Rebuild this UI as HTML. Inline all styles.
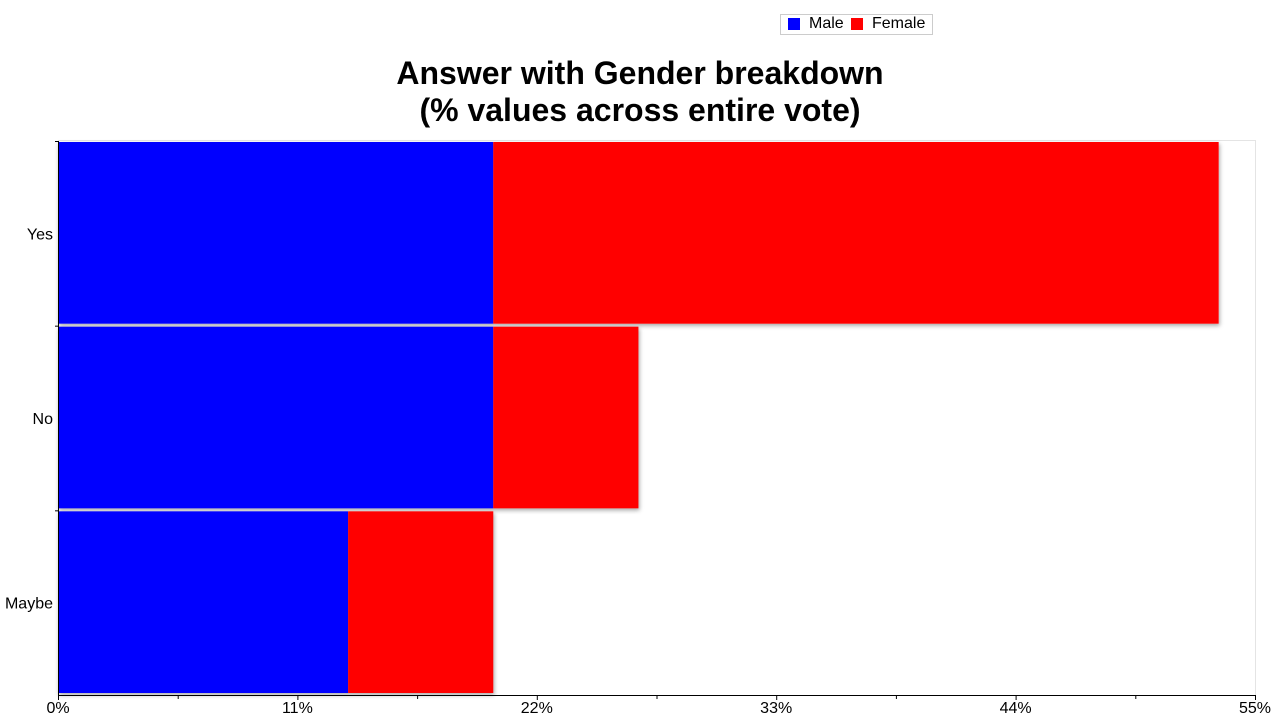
<!DOCTYPE html>
<html><head><meta charset="utf-8"><style>
body{margin:0;background:#fff;font-family:"Liberation Sans",sans-serif}
</style></head><body>
<svg width="1280" height="720" xmlns="http://www.w3.org/2000/svg" font-family="Liberation Sans, sans-serif">
<defs><filter id="sh" x="-5%" y="-5%" width="110%" height="115%"><feDropShadow dx="1" dy="2" stdDeviation="2" flood-color="#000" flood-opacity="0.35"/></filter></defs>
<g>
<rect x="780.5" y="14.5" width="152" height="20" fill="#fff" stroke="#ccc"/>
<rect x="788" y="18" width="12" height="12" fill="#0000ff"/>
<text x="809" y="28" font-size="16">Male</text>
<rect x="851" y="18" width="12" height="12" fill="#ff0000"/>
<text x="872" y="28" font-size="16">Female</text>
</g>
<text x="640" y="84" font-size="32" font-weight="bold" text-anchor="middle">Answer with Gender breakdown</text>
<text x="640" y="121" font-size="32" font-weight="bold" text-anchor="middle">(% values across entire vote)</text>
<rect x="58.5" y="140.5" width="1197" height="555" fill="none" stroke="#e4e4e4"/>
<g id="bars"></g>
<g id="axes"></g>
</svg>
<script>
const categories=["Yes","No","Maybe"];
const maleValues=[20,20,13.33];
const femaleValues=[33.33,6.67,6.67];
const tickLabels=["0%","11%","22%","33%","44%","55%"];
const tickValues=[0,11,22,33,44,55];
const X0=58,X1=1255,Y0=141,Y1=695,XMAX=55;
const x=v=>X0+(X1-X0)*v/XMAX;
const bandH=(Y1-Y0)/categories.length;
const y=i=>Y0+bandH*i;
const NS="http://www.w3.org/2000/svg";
const bars=document.getElementById('bars'),axes=document.getElementById('axes');
function mk(tag,attrs,parent){const e=document.createElementNS(NS,tag);for(const k in attrs)e.setAttribute(k,attrs[k]);parent.appendChild(e);return e;}
categories.forEach((c,i)=>{
  const g=mk('g',{filter:'url(#sh)'},bars);
  
  
  const top=y(i)+1,h=bandH-3;
  const m=mk('rect',{x:x(0),y:top,width:x(maleValues[i])-x(0),height:h,fill:'#0000ff'},g);
  
  
  const f=mk('rect',{x:x(maleValues[i]),y:top,width:x(maleValues[i]+femaleValues[i])-x(maleValues[i]),height:h,fill:'#ff0000'},g);
  
  
  const t=mk('text',{x:53,y:y(i)+bandH/2+6,'font-size':16,'text-anchor':'end'},axes);
  t.textContent=c;
  
  
  const tk=mk('line',{x1:55,x2:58,y1:y(i)+0.5,y2:y(i)+0.5,stroke:'#000'},axes);
  
  
});
const ya=mk('line',{x1:58.5,x2:58.5,y1:Y0,y2:Y1+1,stroke:'#000'},axes);


const xa=mk('line',{x1:58,x2:X1+1,y1:695.5,y2:695.5,stroke:'#000'},axes);


tickValues.forEach((v,i)=>{
  const l=mk('line',{x1:x(v)+0.5,x2:x(v)+0.5,y1:695,y2:700,stroke:'#000'},axes);
  
  
  if(i<tickValues.length-1){
    const mv=(v+tickValues[i+1])/2;
    const ml=mk('line',{x1:x(mv)+0.5,x2:x(mv)+0.5,y1:695,y2:699,stroke:'#000'},axes);
    
    
  }
  const t=mk('text',{x:x(v),y:713,'font-size':16,'text-anchor':'middle'},axes);
  t.textContent=tickLabels[i];
  
  
});
</script>
</body></html>
